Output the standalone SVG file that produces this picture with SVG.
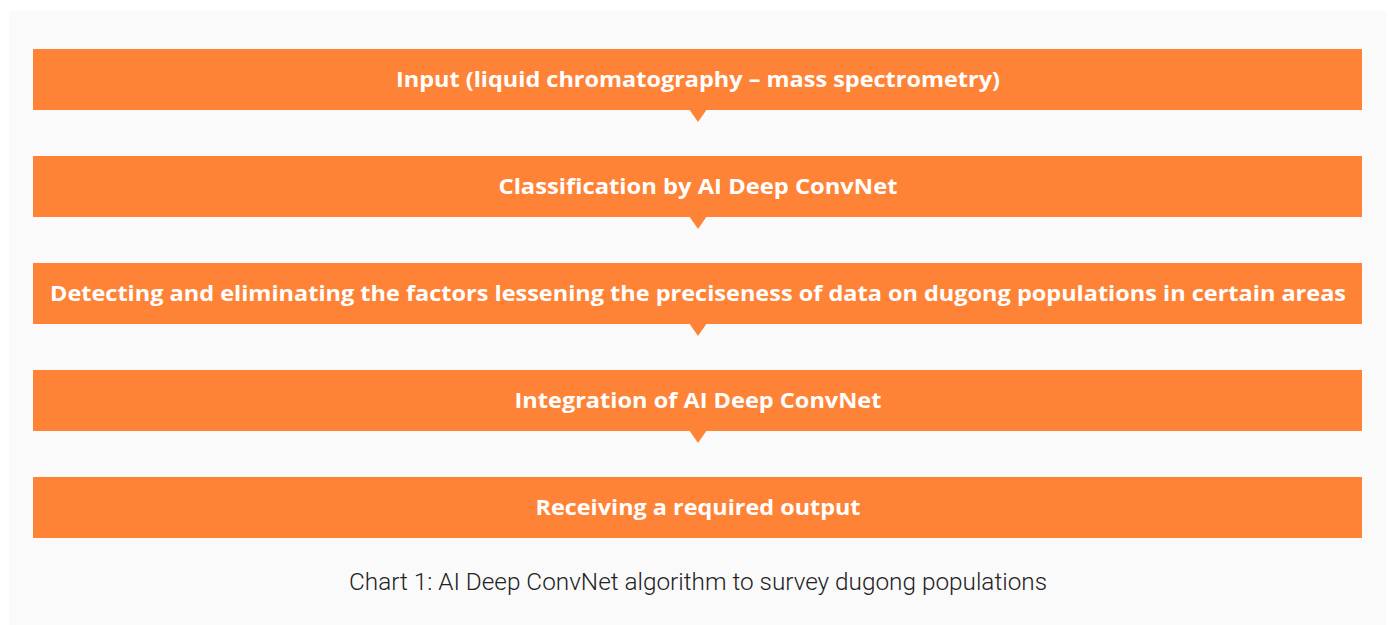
<svg xmlns="http://www.w3.org/2000/svg" width="1391" height="625" viewBox="0 0 1391 625">
<style>
.bar{fill:#ff8337}
.arr{fill:#ff8337}
.lbl{font-family:"Open Sans","Liberation Sans",sans-serif;font-weight:700;font-size:22px;fill:#ffffff;text-anchor:middle}
.cap{font-family:"Roboto","Liberation Sans",sans-serif;font-weight:300;font-size:23px;fill:#222222;text-anchor:middle}
</style>
<rect x="0" y="0" width="1391" height="625" fill="#ffffff"/>
<rect x="9" y="11" width="1377" height="614" fill="#fafafa"/>
<g id="connectors">
<polygon class="arr" points="689,109 707,109 698,122"/>
<polygon class="arr" points="689,216 707,216 698,229"/>
<polygon class="arr" points="689,323 707,323 698,336"/>
<polygon class="arr" points="689,430 707,430 698,443"/>
</g>
<g id="n1"><rect class="bar" x="33" y="49" width="1329" height="61"/><text class="lbl" x="698" y="87" textLength="604" lengthAdjust="spacingAndGlyphs">Input (liquid chromatography – mass spectrometry)</text></g>
<g id="n2"><rect class="bar" x="33" y="156" width="1329" height="61"/><text class="lbl" x="698" y="194" textLength="399" lengthAdjust="spacingAndGlyphs">Classification by AI Deep ConvNet</text></g>
<g id="n3"><rect class="bar" x="33" y="263" width="1329" height="61"/><text class="lbl" x="698" y="301" textLength="1296" lengthAdjust="spacingAndGlyphs">Detecting and eliminating the factors lessening the preciseness of data on dugong populations in certain areas</text></g>
<g id="n4"><rect class="bar" x="33" y="370" width="1329" height="61"/><text class="lbl" x="698" y="408" textLength="367" lengthAdjust="spacingAndGlyphs">Integration of AI Deep ConvNet</text></g>
<g id="n5"><rect class="bar" x="33" y="477" width="1329" height="61"/><text class="lbl" x="698" y="515" textLength="325" lengthAdjust="spacingAndGlyphs">Receiving a required output</text></g>
<text class="cap" x="698" y="590" textLength="698" lengthAdjust="spacingAndGlyphs">Chart 1: AI Deep ConvNet algorithm to survey dugong populations</text>
</svg>
